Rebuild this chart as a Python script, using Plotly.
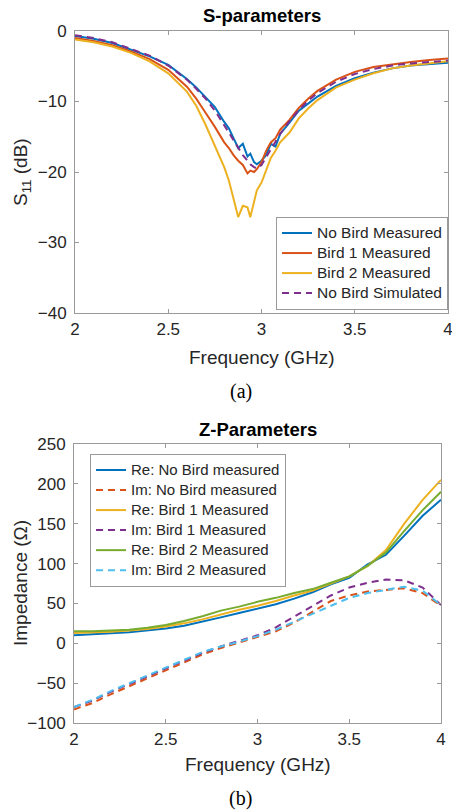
import plotly.graph_objects as go

# ---------------- Data: S-parameters ----------------
freq_s = [2.0, 2.1, 2.2, 2.3, 2.4, 2.5, 2.6, 2.65, 2.7, 2.75, 2.8, 2.825, 2.85, 2.875,
          2.9, 2.925, 2.94, 2.96, 2.975, 3.0, 3.025, 3.05, 3.075, 3.1, 3.15, 3.2, 3.25,
          3.3, 3.4, 3.5, 3.6, 3.7, 3.8, 3.9, 4.0]
s11_nobird_meas = [-0.7, -1.1, -1.7, -2.6, -3.6, -4.8, -6.8, -8.0, -9.4, -10.8, -12.9, -13.8,
                   -15.2, -16.6, -16.0, -17.8, -17.4, -18.6, -18.9, -18.4, -17.6, -16.0, -16.4,
                   -14.6, -13.0, -11.3, -10.3, -9.3, -7.8, -6.7, -5.9, -5.3, -4.9, -4.7, -4.5]
s11_bird1_meas = [-1.0, -1.4, -2.0, -2.9, -4.0, -5.5, -7.9, -9.6, -11.6, -13.6, -15.8, -16.6,
                  -17.6, -18.4, -19.0, -20.2, -19.8, -20.0, -19.6, -18.6, -17.0, -15.8, -15.2,
                  -14.0, -12.6, -10.9, -9.6, -8.5, -6.9, -5.8, -5.1, -4.7, -4.4, -4.1, -3.9]
s11_bird2_meas = [-1.2, -1.6, -2.2, -3.1, -4.3, -6.0, -8.6, -10.6, -13.3, -16.3, -19.3, -21.2,
                  -23.6, -26.4, -24.8, -25.0, -26.4, -24.0, -22.6, -21.5, -19.8, -18.0, -17.0,
                  -15.8, -14.4, -12.4, -11.0, -9.8, -8.0, -6.9, -6.0, -5.3, -4.9, -4.6, -4.3]
s11_nobird_sim = [-0.6, -1.0, -1.6, -2.5, -3.5, -4.9, -6.9, -8.2, -9.6, -11.3, -13.3, -14.4,
                  -15.5, -16.6, -17.6, -18.4, -18.9, -19.3, -19.5, -19.0, -17.9, -16.8, -15.7,
                  -14.6, -12.8, -11.2, -9.9, -8.8, -7.2, -6.1, -5.4, -4.9, -4.6, -4.4, -4.2]

# ---------------- Data: Z-parameters ----------------
freq_z = [2.0, 2.1, 2.2, 2.3, 2.4, 2.5, 2.6, 2.7, 2.8, 2.9, 3.0, 3.1, 3.2, 3.3, 3.4,
          3.5, 3.6, 3.7, 3.8, 3.9, 4.0]
re_nobird = [10, 11, 12.5, 14, 16, 18.5, 22, 27, 32.5, 38, 43.5, 49, 56, 64, 74,
             82, 99, 111, 135, 160, 180]
im_nobird = [-83, -75, -64, -54, -44, -35, -25, -14, -6, 1, 8, 15, 26, 39, 53,
             60, 65, 67, 69, 63, 47]
re_bird1 = [13, 13.5, 14.5, 16, 18, 21, 25, 30, 36, 42, 47, 53, 60, 66, 75,
            84, 97, 117, 150, 180, 205]
im_bird1 = [-80, -72, -61, -51, -41, -32, -22, -12, -4, 3, 10, 20, 33, 47, 60,
            70, 76, 80, 79, 70, 48]
re_bird2 = [15, 15, 16, 17, 19.5, 23, 28, 34, 41, 46, 52, 57, 63, 68, 76,
            84, 97, 114, 141, 167, 190]
im_bird2 = [-80, -71, -60, -50, -40, -31, -21, -11, -4, 2, 9, 17, 27, 37, 48,
            57, 63, 67, 71, 66, 48]

x_ticks = [2, 2.5, 3, 3.5, 4]
x_ticktext = ["2", "2.5", "3", "3.5", "4"]
s_yticks = [-40, -30, -20, -10, 0]
z_yticks = [-100, -50, 0, 50, 100, 150, 200, 250]

# MATLAB default colours
C_BLUE = "#0072BD"
C_RED = "#D95319"
C_YEL = "#EDB120"
C_PUR = "#7E2F8E"
C_GRN = "#77AC30"
C_CYA = "#4DBEEE"

W, H = 452, 812
FONT = "Liberation Sans, Arial, sans-serif"
SERIF = "Liberation Serif, Times New Roman, serif"
AXC = "#9a9a9a"
TXT = "#262626"
DASH = "7px,5px"


def px(x):
    return x / W


def py(y):
    return 1 - y / H


def lg(name, size):
    # legend text rendered at `size`, while row spacing follows the (smaller) legend font
    return '<span style="font-size:%gpx">%s</span>' % (size, name)


fig = go.Figure()

for name, ys, col, dash in [
    ("No Bird Measured", s11_nobird_meas, C_BLUE, "solid"),
    ("Bird 1 Measured", s11_bird1_meas, C_RED, "solid"),
    ("Bird 2 Measured", s11_bird2_meas, C_YEL, "solid"),
    ("No Bird Simulated", s11_nobird_sim, C_PUR, DASH),
]:
    fig.add_trace(go.Scatter(x=freq_s, y=ys, mode="lines", name=lg(name, 15.5),
                             line=dict(color=col, width=2, dash=dash),
                             xaxis="x", yaxis="y", legend="legend"))

for name, ys, col, dash in [
    ("Re: No Bird measured", re_nobird, C_BLUE, "solid"),
    ("Im: No Bird measured", im_nobird, C_RED, DASH),
    ("Re: Bird 1 Measured", re_bird1, C_YEL, "solid"),
    ("Im: Bird 1 Measured", im_bird1, C_PUR, DASH),
    ("Re: Bird 2 Measured", re_bird2, C_GRN, "solid"),
    ("Im: Bird 2 Measured", im_bird2, C_CYA, DASH),
]:
    fig.add_trace(go.Scatter(x=freq_z, y=ys, mode="lines", name=lg(name, 15),
                             line=dict(color=col, width=2, dash=dash),
                             xaxis="x2", yaxis="y2", legend="legend2"))

axis_common = dict(showline=True, linecolor=AXC, linewidth=1, mirror="ticks",
                   ticks="inside", ticklen=4, tickcolor=AXC, showgrid=False,
                   zeroline=False, automargin=False, ticklabeloverflow="allow",
                   tickfont=dict(family=FONT, size=17, color=TXT))

fig.update_layout(
    width=W, height=H,
    margin=dict(l=0, r=0, t=0, b=0, autoexpand=False),
    paper_bgcolor="white", plot_bgcolor="white",
    font=dict(family=FONT, color=TXT),
    xaxis=dict(domain=[px(75), px(448)], range=[2, 4], tickvals=x_ticks,
               ticktext=x_ticktext, anchor="y", ticklabelstandoff=1, **axis_common),
    yaxis=dict(domain=[py(313), py(31)], range=[-40, 0], tickvals=s_yticks,
               anchor="x", ticklabelstandoff=4, **axis_common),
    xaxis2=dict(domain=[px(74), px(441)], range=[2, 4], tickvals=x_ticks,
                ticktext=x_ticktext, anchor="y2", ticklabelstandoff=1, **axis_common),
    yaxis2=dict(domain=[py(723), py(444)], range=[-100, 250], tickvals=z_yticks,
                anchor="x2", ticklabelstandoff=4, **axis_common),
    legend=dict(x=px(448), y=py(217), xanchor="right", yanchor="top",
                bgcolor="white", bordercolor=AXC, borderwidth=1,
                font=dict(family=FONT, size=13.1, color=TXT),
                itemwidth=30, tracegroupgap=0),
    legend2=dict(x=px(90), y=py(454), xanchor="left", yanchor="top",
                 bgcolor="white", bordercolor=AXC, borderwidth=1,
                 font=dict(family=FONT, size=13.1, color=TXT),
                 itemwidth=30, tracegroupgap=0),
    showlegend=True,
)


def label(text, x, y, size, family=FONT, color=TXT, angle=0):
    return dict(text=text, x=px(x), y=py(y), xref="paper", yref="paper",
                xanchor="center", yanchor="middle", showarrow=False,
                textangle=angle, font=dict(family=family, size=size, color=color))


ann = [
    label("<b>S-parameters</b>", 261.5, 16, 18.5, color="black"),
    label("<b>Z-Parameters</b>", 257.5, 430, 18.5, color="black"),
    label("Frequency (GHz)", 261.5, 357, 19),
    label("Frequency (GHz)", 257.5, 764, 19),
    label("S<sub>11</sub> (dB)", 22, 172, 19, angle=-90),
    label("Impedance (\u03a9)", 20, 583, 19, angle=-90),
    label("(a)", 241, 391, 20, family=SERIF, color="black"),
    label("(b)", 240, 798, 20, family=SERIF, color="black"),
]
fig.update_layout(annotations=ann)

fig.write_html("out.html", config={"displayModeBar": False},
               post_script="document.body.style.margin='0';document.body.style.overflow='hidden';")
